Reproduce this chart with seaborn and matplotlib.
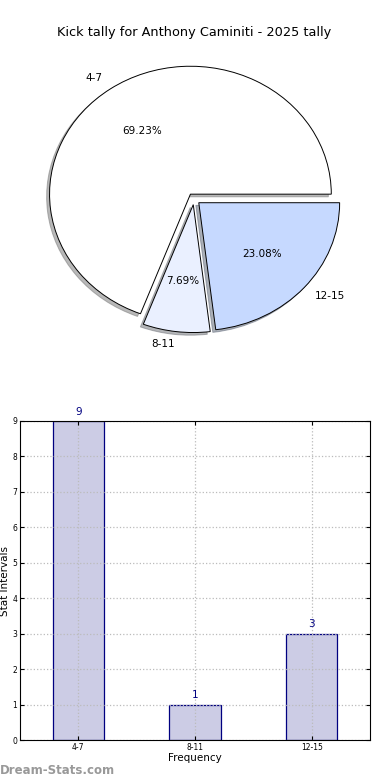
import pandas as pd
import numpy as np
import matplotlib
matplotlib.use("Agg")
import matplotlib.pyplot as plt
import seaborn as sns

# data
categories = ["4-7", "8-11", "12-15"]
counts = [9, 1, 3]
pie_colors = ["#FFFFFF", "#EAF0FF", "#C6D9FF"]
player = "Anthony Caminiti"
season = "2025"

sns.set_style("white")
plt.rcParams['font.family'] = ['DejaVu Sans']
plt.rcParams['text.color'] = 'black'
plt.rcParams['xtick.color'] = 'black'
plt.rcParams['ytick.color'] = 'black'
plt.rcParams['axes.labelcolor'] = 'black'

fig = plt.figure(figsize=(3.9, 7.8), dpi=100)

# pie on top
ax1 = fig.add_axes([0.046, 0.540, 0.903, 0.41])
wedges, texts, autotexts = ax1.pie(
    counts, labels=categories, colors=pie_colors, explode=[0.045] * 3,
    autopct="%1.2f%%", shadow=dict(ox=-0.015, oy=-0.015, shade=0.55),
    startangle=0, pctdistance=0.6, labeldistance=1.1,
    wedgeprops=dict(edgecolor="black", linewidth=0.7),
    textprops=dict(fontsize=7.5))
ax1.set_aspect("auto")
ax1.set_xlim(-1.25, 1.25)
ax1.set_ylim(-1.25, 1.25)
ax1.set_title("Kick tally for %s - %s tally" % (player, season), fontsize=9.3, pad=2)

# bar chart below
ax2 = fig.add_axes([20 / 390, 1 - 740 / 780, 350 / 390, 319 / 780])
df = pd.DataFrame({"interval": categories, "count": counts})
sns.barplot(df, x="interval", y="count", ax=ax2, color="#CCCCE5",
            edgecolor="#000080", linewidth=0.9, width=0.44, saturation=1)
ax2.set_xlim(-0.5, 2.5)
ax2.set_ylim(0, 9)
ax2.set_yticks(range(10))
ax2.set_axisbelow(False)
ax2.grid(True, linestyle=":", color="#BBBBBB", linewidth=0.9)
for s in ax2.spines.values():
    s.set_color("black")
    s.set_linewidth(0.8)
    s.set_zorder(5)
ax2.tick_params(axis="both", labelsize=5.5, direction="in", length=3,
                top=True, right=True, bottom=True, left=True, pad=2)
ax2.set_xlabel("Frequency", fontsize=7.5, labelpad=1)
ax2.set_ylabel("Stat Intervals", fontsize=7.5, labelpad=2)
for i, v in enumerate(counts):
    ax2.text(i, v + 0.12, str(v), ha="center", va="bottom", fontsize=7.5, color="#000080")

fig.text(0.0, 0.004, "Dream-Stats.com", fontsize=8.5, color="#999999",
         ha="left", va="bottom", fontweight="semibold")

fig.savefig("out.png", dpi=100)
